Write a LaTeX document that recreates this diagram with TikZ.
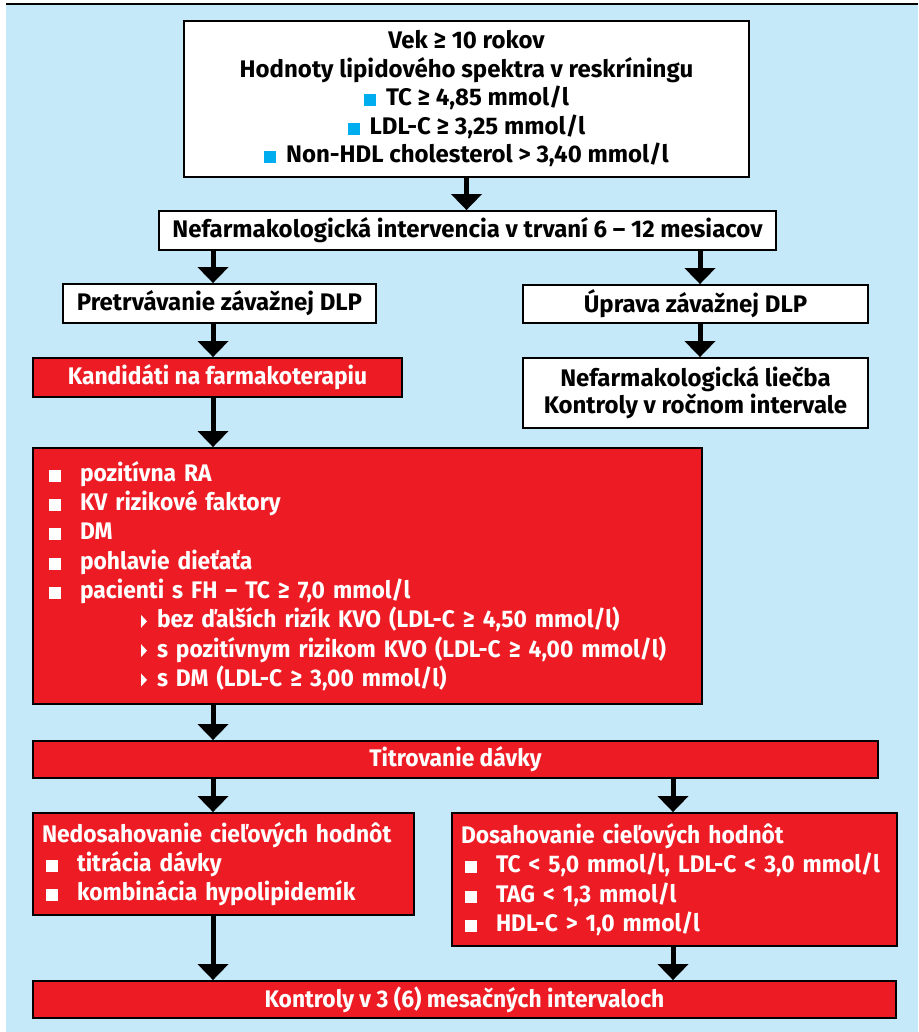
\documentclass[tikz,border=0pt]{standalone}
\usepackage{fontspec}
\setmainfont{Fira Sans}
\newfontfamily\redfont{Fira Sans}[FakeStretch=0.95]
\usepackage{xcolor}
\usepackage{tikz}
\usetikzlibrary{positioning,arrows.meta,calc}
\definecolor{sky}{HTML}{C6E9F9}
\definecolor{alarm}{HTML}{ED1C24}
\definecolor{cyanmark}{HTML}{00AEEF}
\newcommand{\cyansq}{\textcolor{cyanmark}{\rule[-0.5pt]{12pt}{12pt}}\hspace{10pt}}
\newcommand{\wsq}{\makebox[31pt][l]{\rule[-0.5pt]{12pt}{12pt}}}
\newcommand{\wtri}{\makebox[16pt][l]{\tikz\fill[white] (0,0) -- (0,13pt) -- (6pt,6.5pt) -- cycle;}}

\begin{document}
\begin{tikzpicture}[
  x=1pt,y=-1pt,
  font=\bfseries\fontsize{24}{29}\selectfont,
  wbox/.style={draw=black,line width=1.8pt,fill=white,align=center,inner sep=0pt},
  rbox/.style={draw=black,line width=1.8pt,fill=alarm,text=white,align=center,inner sep=0pt,
               font=\redfont\bfseries\fontsize{24}{29.3}\selectfont},
  dn/.style={-{Triangle[width=30pt,length=16pt]},line width=5pt}
]
\useasboundingbox (0,0) rectangle (918,1032);
% backdrop
\fill[sky] (6,4) rectangle (918,1032);
\draw[line width=2pt] (6,4) -- (918,4);

% screening
\node[wbox,minimum width=565pt,minimum height=156pt,font=\bfseries\fontsize{24}{28.5}\selectfont] (screen) at (466.5,99)
  {Vek ≥ 10 rokov\\Hodnoty lipidového spektra v reskríningu\\
   \cyansq TC ≥ 4,85 mmol/l\\\cyansq LDL-C ≥ 3,25 mmol/l\\
   \cyansq Non-HDL cholesterol > 3,40 mmol/l};
\node[wbox,minimum width=617pt,minimum height=39pt] (nefint) at (467.5,230.5)
  {Nefarmakologická intervencia v trvaní 6 – 12 mesiacov};

% two branches
\node[wbox,minimum width=313pt,minimum height=39pt] (pretr)  at (219.5,303.5) {Pretrvávanie závažnej DLP};
\node[wbox,minimum width=345pt,minimum height=38pt] (uprava) at (695.5,304)   {Úprava závažnej DLP};
\node[rbox,minimum width=369pt,minimum height=39pt] (kand)   at (217.5,377.5) {Kandidáti na farmakoterapiu};
\node[wbox,minimum width=345pt,minimum height=70pt,font=\bfseries\fontsize{24}{27}\selectfont] (liecba) at (695.5,393)
  {Nefarmakologická liečba\\Kontroly v ročnom intervale};

% criteria
\node[rbox,align=left,text width=637pt,inner xsep=16pt,minimum height=256pt] (crit) at (367.5,576)
  {\wsq pozitívna RA\\
   \wsq KV rizikové faktory\\
   \wsq DM\\
   \wsq pohlavie dieťaťa\\
   \wsq pacienti s FH – TC ≥ 7,0 mmol/l\\
   \hspace*{92pt}\wtri bez ďalších rizík KVO (LDL-C ≥ 4,50 mmol/l)\\
   \hspace*{92pt}\wtri s pozitívnym rizikom KVO (LDL-C ≥ 4,00 mmol/l)\\
   \hspace*{92pt}\wtri s DM (LDL-C ≥ 3,00 mmol/l)};
\node[rbox,minimum width=845pt,minimum height=37pt] (titr) at (455.5,759.5) {Titrovanie dávky};

% outcome
\node[rbox,align=left,text width=363pt,inner xsep=9pt,minimum height=102pt] (nedos) at (223.5,864)
  {Nedosahovanie cieľových hodnôt\\
   \hspace*{4pt}\wsq titrácia dávky\\
   \hspace*{4pt}\wsq kombinácia hypolipidemík};
\node[rbox,align=left,text width=427pt,inner xsep=9pt,minimum height=133pt] (dosah) at (674.5,879.5)
  {Dosahovanie cieľových hodnôt\\
   \hspace*{4pt}\wsq TC < 5,0 mmol/l, LDL-C < 3,0 mmol/l\\
   \hspace*{4pt}\wsq TAG < 1,3 mmol/l\\
   \hspace*{4pt}\wsq HDL-C > 1,0 mmol/l};
\node[rbox,minimum width=863pt,minimum height=37pt] (kontr) at (464.5,999.5) {Kontroly v 3 (6) mesačných intervaloch};

% arrows
\coordinate (laneL) at (213,0);
\coordinate (laneR) at (700,0);
\coordinate (laneD) at (673,0);
\draw[dn] (screen.south) -- (screen.south|-nefint.north);
\foreach \a/\b in {nefint/pretr,pretr/kand,kand/crit,crit/titr,titr/nedos,nedos/kontr}
  \draw[dn] (laneL|-\a.south) -- (laneL|-\b.north);
\draw[dn] (laneR|-nefint.south) -- (laneR|-uprava.north);
\draw[dn] (laneR|-uprava.south) -- (laneR|-liecba.north);
\foreach \a/\b in {titr/dosah,dosah/kontr}
  \draw[dn] (laneD|-\a.south) -- (laneD|-\b.north);
\end{tikzpicture}
\end{document}
